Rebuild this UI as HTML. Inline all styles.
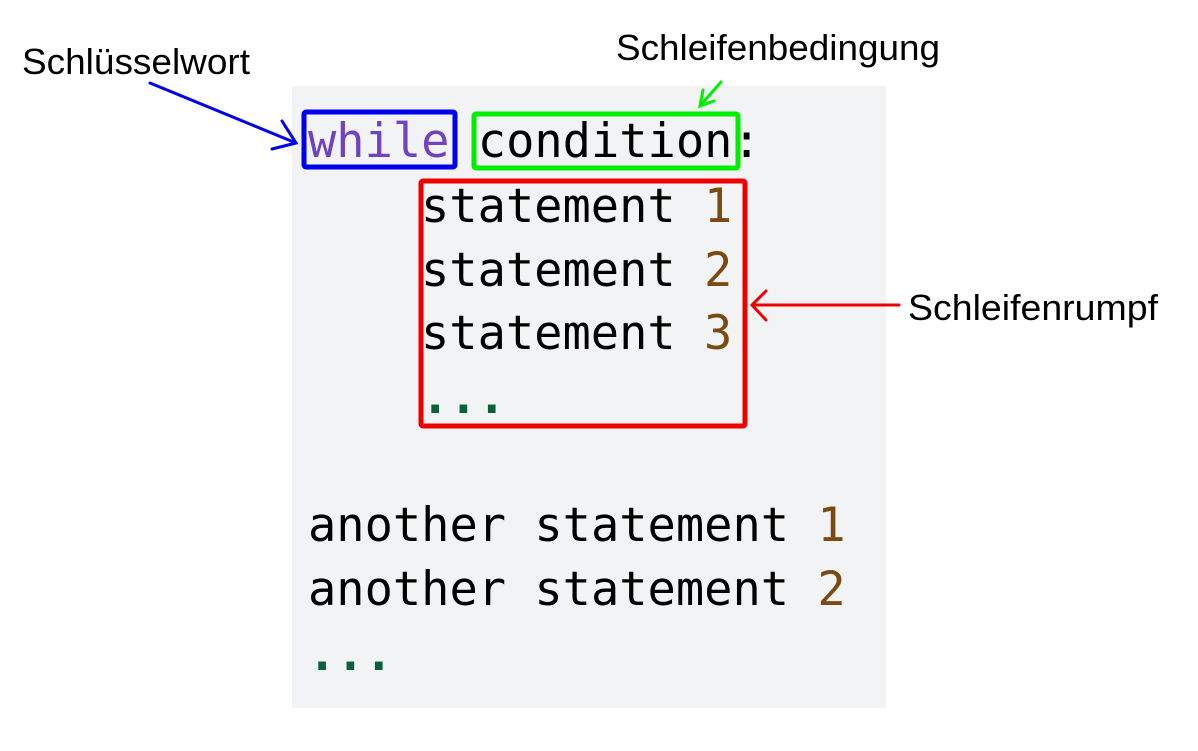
<!DOCTYPE html>
<html><head><meta charset="utf-8"><style>
html,body{margin:0;padding:0;background:#fff;}
svg{display:block;}
.c{font-family:"DejaVu Sans Mono","Liberation Mono",monospace;font-size:47px;}
.l{font-family:"Liberation Sans",Arial,sans-serif;font-size:36px;fill:#000;}
</style></head><body>
<svg width="1198" height="751" viewBox="0 0 1198 751" xmlns="http://www.w3.org/2000/svg">
<rect x="292" y="86" width="594" height="622" fill="#f2f3f5"/>
<g class="c">
<text x="308" y="157"><tspan fill="#6f42c1">while</tspan> <tspan fill="#000">condition:</tspan></text>
<text x="421" y="222" fill="#000">statement <tspan fill="#7a4a10">1</tspan></text>
<text x="421" y="286" fill="#000">statement <tspan fill="#7a4a10">2</tspan></text>
<text x="421" y="349" fill="#000">statement <tspan fill="#7a4a10">3</tspan></text>
<text x="421" y="413" fill="#0b6137" font-weight="bold">...</text>
<text x="308" y="541" fill="#000">another statement <tspan fill="#7a4a10">1</tspan></text>
<text x="308" y="605" fill="#000">another statement <tspan fill="#7a4a10">2</tspan></text>
<text x="308" y="670" fill="#0b6137" font-weight="bold">...</text>
</g>
<rect x="304" y="112" width="151" height="55" fill="none" stroke="#0000ee" stroke-width="5" rx="2"/>
<rect x="474" y="114" width="264" height="54" fill="none" stroke="#00ee00" stroke-width="5" rx="2"/>
<rect x="421" y="181" width="324" height="245" fill="none" stroke="#ee0000" stroke-width="5" rx="2"/>
<text class="l" x="22" y="74" textLength="228" lengthAdjust="spacingAndGlyphs">Schlüsselwort</text>
<text class="l" x="616" y="60" textLength="324" lengthAdjust="spacingAndGlyphs">Schleifenbedingung</text>
<text class="l" x="908" y="320" textLength="250" lengthAdjust="spacingAndGlyphs">Schleifenrumpf</text>
<g fill="none" stroke-width="3" stroke-linecap="round">
<path d="M150 83 L296 143 M282 121 L296 143 L272 149" stroke="#0000ee"/>
<path d="M721 82 L700 106 M703 90 L700 106 L714 101" stroke="#00ee00"/>
<path d="M899 305 L752 305 M766 291 L752 305 L766 320" stroke="#ee0000"/>
</g>
</svg>
</body></html>
